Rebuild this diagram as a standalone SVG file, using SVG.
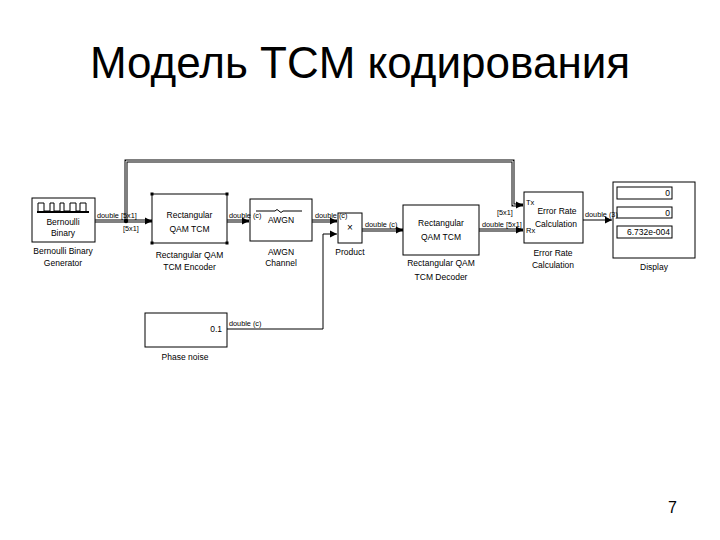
<svg xmlns="http://www.w3.org/2000/svg" width="720" height="540" viewBox="0 0 720 540">
<style>
.t{font-family:"Liberation Sans",Arial,sans-serif;font-size:8.5px;fill:#000}
.l{font-family:"Liberation Sans",Arial,sans-serif;font-size:7.3px;fill:#000}
.m{text-anchor:middle}
.e{text-anchor:end}
.blk{fill:#fff;stroke:#000;stroke-width:1}
.vec{fill:none;stroke:#000;stroke-width:3}
.vin{fill:none;stroke:#fff;stroke-width:1}
.sc{fill:none;stroke:#000;stroke-width:1}
</style>
<defs>
<marker id="arr" markerUnits="userSpaceOnUse" markerWidth="8" markerHeight="8" refX="7" refY="4" orient="auto">
<path d="M0,0.5 L7,4 L0,7.5 z" fill="#000"/>
</marker>
</defs>
<rect width="720" height="540" fill="#fff"/>
<text x="360" y="78" class="m" style="font-family:'Liberation Sans',Arial,sans-serif;font-size:44px">Модель TCM кодирования</text>
<text x="677" y="513" class="e" style="font-family:'Liberation Sans',Arial,sans-serif;font-size:16px">7</text>

<g id="connectors">
<path class="vec" d="M95,221 H152" marker-end="url(#arr)"/>
<path class="vin" d="M95,221 H145"/>
<path class="vec" d="M126,221 V161 H513 V205 H523" marker-end="url(#arr)"/>
<path class="vin" d="M126,219 V161 H513 V205 H516"/>
<circle cx="126" cy="221" r="2.2" fill="#000"/>
<path class="vec" d="M227,221 H249" marker-end="url(#arr)"/>
<path class="vin" d="M227,221 H242"/>
<path class="vec" d="M312,221 H337" marker-end="url(#arr)"/>
<path class="vin" d="M312,221 H330"/>
<path class="sc" d="M227,329 H323 V234 H337" marker-end="url(#arr)"/>
<path class="vec" d="M362,230 H403" marker-end="url(#arr)"/>
<path class="vin" d="M362,230 H396"/>
<path class="vec" d="M479,230 H523" marker-end="url(#arr)"/>
<path class="vin" d="M479,230 H516"/>
<path class="sc" d="M583,220 H612" marker-end="url(#arr)"/>
</g>

<g id="bernoulli">
<rect class="blk" x="32" y="198" width="63" height="44"/>
<path class="sc" d="M38,211 V203 H44 V211 H50 V203 H54 V211 H60 V203 H64 V211 H70 V203 H76 V211 H80 V203 H86 V211"/>
<path d="M37,212 H89" stroke="#000" stroke-width="2"/>
<text x="63" y="225" class="t m">Bernoulli</text>
<text x="63" y="236" class="t m">Binary</text>
<text x="63" y="254" class="t m">Bernoulli Binary</text>
<text x="63" y="266" class="t m">Generator</text>
</g>

<g id="encoder">
<rect class="blk" x="152" y="194" width="75" height="49"/>
<rect x="150.5" y="192.5" width="3" height="3" fill="#000"/>
<rect x="225.5" y="192.5" width="3" height="3" fill="#000"/>
<rect x="150.5" y="241.5" width="3" height="3" fill="#000"/>
<rect x="225.5" y="241.5" width="3" height="3" fill="#000"/>
<text x="189.5" y="218" class="t m">Rectangular</text>
<text x="189.5" y="232" class="t m">QAM TCM</text>
<text x="189.5" y="258" class="t m">Rectangular QAM</text>
<text x="189.5" y="270" class="t m">TCM Encoder</text>
</g>

<g id="awgn">
<rect class="blk" x="250" y="199" width="62" height="42"/>
<path class="sc" d="M256,211 H275 q2,-3 4,0 q2,3 4,0 H302"/>
<text x="281" y="223" class="t m">AWGN</text>
<text x="281" y="255" class="t m">AWGN</text>
<text x="281" y="266" class="t m">Channel</text>
</g>

<g id="product">
<rect class="blk" x="338" y="213" width="24" height="30"/>
<text x="350" y="231" class="t m" style="font-size:10px">×</text>
<text x="350" y="255" class="t m">Product</text>
</g>

<g id="phase">
<rect class="blk" x="145" y="313" width="82" height="34"/>
<text x="222" y="332" class="t e">0.1</text>
<text x="185" y="360" class="t m">Phase noise</text>
</g>

<g id="decoder">
<rect class="blk" x="403" y="205" width="76" height="50"/>
<text x="441" y="226" class="t m">Rectangular</text>
<text x="441" y="240" class="t m">QAM TCM</text>
<text x="441" y="266" class="t m">Rectangular QAM</text>
<text x="441" y="280" class="t m">TCM Decoder</text>
</g>

<g id="errorrate">
<rect class="blk" x="524" y="192" width="59" height="51"/>
<text x="526" y="205" class="t" style="font-size:7.5px">Tx</text>
<text x="557" y="214" class="t m">Error Rate</text>
<text x="556" y="227" class="t m">Calculation</text>
<text x="526" y="233" class="t" style="font-size:7.5px">Rx</text>
<text x="553" y="256" class="t m">Error Rate</text>
<text x="553" y="268" class="t m">Calculation</text>
</g>

<g id="display">
<rect class="blk" x="613" y="182" width="82" height="76"/>
<rect class="blk" x="617" y="187" width="55" height="12"/>
<rect class="blk" x="617" y="207" width="55" height="11"/>
<rect class="blk" x="617" y="226" width="55" height="12"/>
<text x="670" y="196" class="t e">0</text>
<text x="670" y="216" class="t e">0</text>
<text x="670" y="235" class="t e">6.732e-004</text>
<text x="654" y="270" class="t m">Display</text>
</g>

<g id="connector-labels">
<text x="97" y="218" class="l">double [5x1]</text>
<text x="123" y="231" class="l">[5x1]</text>
<text x="229" y="218" class="l">double (c)</text>
<text x="315" y="218" class="l">double (c)</text>
<text x="365" y="227" class="l">double (c)</text>
<text x="229" y="326" class="l">double (c)</text>
<text x="497" y="215" class="l">[5x1]</text>
<text x="482" y="227" class="l">double [5x1]</text>
<text x="585" y="217" class="l">double (3)</text>
</g>
</svg>
